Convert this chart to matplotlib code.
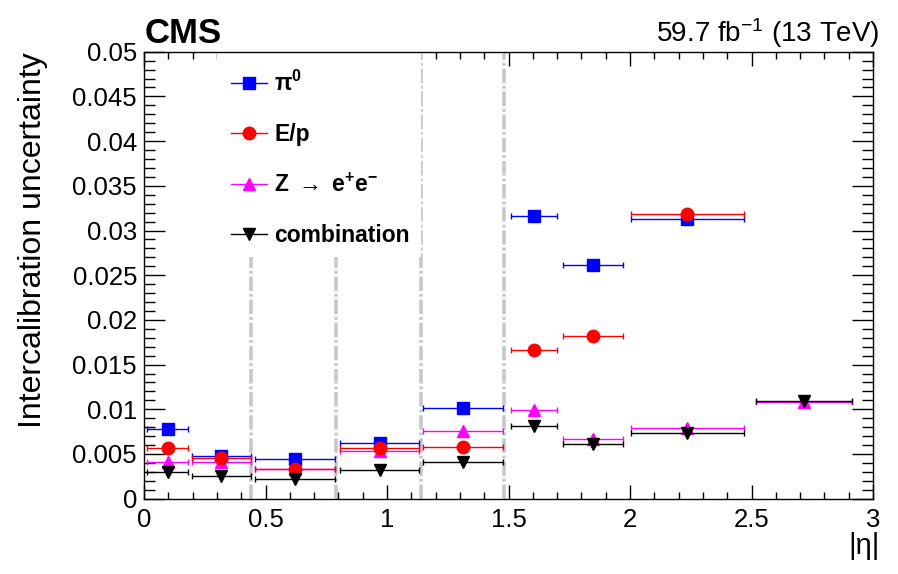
#!/usr/bin/env python3
# -*- coding: utf-8 -*-

import matplotlib
matplotlib.use("Agg")
import matplotlib.pyplot as plt
from matplotlib.ticker import MultipleLocator, FuncFormatter
from matplotlib.patches import Rectangle
from matplotlib.lines import Line2D

plt.rcParams['font.family'] = ['Liberation Sans', 'DejaVu Sans']
plt.rcParams['mathtext.fontset'] = 'custom'
plt.rcParams['mathtext.rm'] = 'Liberation Sans'
plt.rcParams['mathtext.it'] = 'Liberation Sans:italic'
plt.rcParams['mathtext.bf'] = 'Liberation Sans:bold'

# |eta| bins (centre and half width)
eta = [0.097, 0.318, 0.621, 0.970, 1.314, 1.605, 1.848, 2.235, 2.716]
eta_err = [0.083, 0.121, 0.165, 0.163, 0.165, 0.096, 0.123, 0.232, 0.198]

# intercalibration uncertainty per method (None = no measurement)
pi0 = [0.00774, 0.00482, 0.00445, 0.00624, 0.0102, 0.0316, 0.0261, 0.03125, None]
ep = [0.00568, 0.00460, 0.00329, 0.00568, 0.0058, 0.01667, 0.01824, 0.0318, None]
zee = [0.00415, 0.00415, 0.00329, 0.00535, 0.00759, 0.00994, 0.00669, 0.00793, 0.0108]
comb = [0.00299, 0.00250, 0.00221, 0.00322, 0.00415, 0.00815, 0.00613, 0.00737, 0.01095]

# module boundaries
boundaries = [0.44, 0.79, 1.14, 1.48]

fig = plt.figure(figsize=(8.98, 5.74), dpi=100)
ax = fig.add_axes([0.1604, 0.1312, 0.8118, 0.7787])


def draw(vals, color, marker, z):
    xs = [x for x, v in zip(eta, vals) if v is not None]
    xe = [e for e, v in zip(eta_err, vals) if v is not None]
    ys = [v for v in vals if v is not None]
    ax.errorbar(xs, ys, xerr=xe, fmt=marker, color=color, ms=9,
                mec=color, elinewidth=1.0, capsize=2.0, capthick=1.0,
                zorder=z)
    return Line2D([], [], color=color, marker=marker, ms=9, lw=1.0)


for b in boundaries:
    ax.axvline(b, color='#c8c8c8', lw=2.6, ls=(0, (4, 0.8, 0.8, 0.8)), zorder=1)

# white box behind the legend (hides the boundary lines there)
ax.add_patch(Rectangle((0.30, 0.0270), 0.840, 0.0229, facecolor='white',
                       edgecolor='none', zorder=2))

h_pi0 = draw(pi0, 'blue', 's', 3)
h_zee = draw(zee, 'magenta', '^', 4)
h_ep = draw(ep, 'red', 'o', 5)
h_comb = draw(comb, 'black', 'v', 6)

ax.set_xlim(0, 3)
ax.set_ylim(0, 0.05)

ax.xaxis.set_major_locator(MultipleLocator(0.5))
ax.xaxis.set_minor_locator(MultipleLocator(0.1))
ax.yaxis.set_major_locator(MultipleLocator(0.005))
ax.yaxis.set_minor_locator(MultipleLocator(0.001))
ax.xaxis.set_major_formatter(FuncFormatter(lambda v, p: '%g' % round(v, 4)))
ax.yaxis.set_major_formatter(FuncFormatter(lambda v, p: '%g' % round(v, 4)))

ax.tick_params(which='both', direction='in', top=True, right=True,
               width=1.0, labelsize=18.5, colors='black')
ax.tick_params(axis='x', which='major', length=10, pad=7)
ax.tick_params(axis='x', which='minor', length=5)
ax.tick_params(axis='y', which='major', length=15, pad=5)
ax.tick_params(axis='y', which='minor', length=8)
for s in ax.spines.values():
    s.set_linewidth(1.0)

fig.text(33 / 898, 1 - 52 / 574, 'Intercalibration uncertainty', rotation=90,
         ha='center', va='top', fontsize=23)
fig.text(880 / 898, 1 - 560 / 574, '|η|', ha='right', va='bottom', fontsize=21)

fig.text(145 / 898, 1 - 43 / 574, 'CMS', fontsize=25, fontweight='bold',
         ha='left', va='baseline')
fig.text(880 / 898, 1 - 42 / 574, r'59.7 fb$^{-1}$ (13 TeV)', fontsize=20,
         ha='right', va='baseline')

leg = ax.legend([h_pi0, h_ep, h_zee, h_comb],
                [r'π$^{\mathbf{0}}$', 'E/p',
                 r'Z $\rightarrow$ e$^{\mathbf{+}}$e$^{\mathbf{-}}$',
                 'combination'],
                loc='upper left', bbox_to_anchor=(0.119, 0.958),
                frameon=False, borderpad=0, borderaxespad=0,
                handlelength=1.6, handletextpad=0.3, labelspacing=1.2,
                prop={'size': 16.5, 'weight': 'bold'})
leg.set_zorder(7)

fig.savefig('out.png', dpi=100)
